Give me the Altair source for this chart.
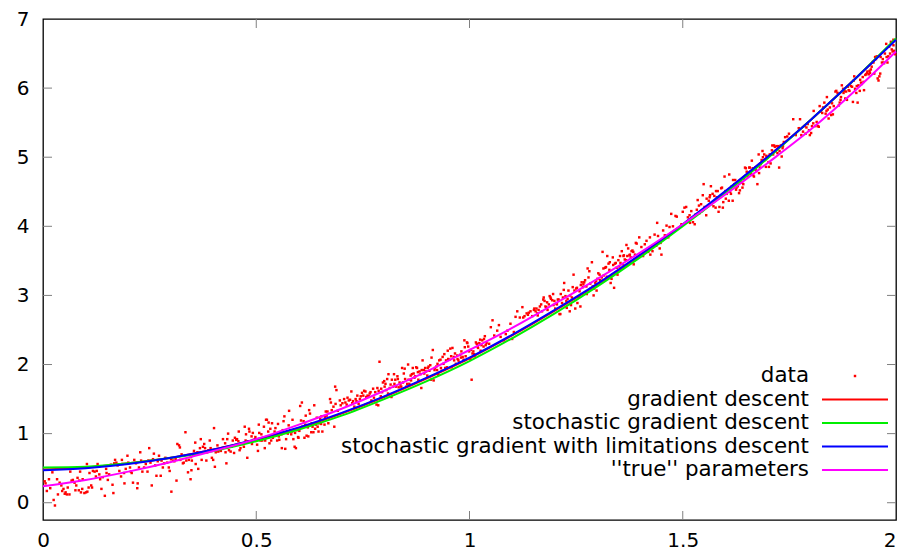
import altair as alt
import pandas as pd

# ---------------- values ----------------
x_ticks = [0.5, 1, 1.5]
y_ticks = [0, 1, 2, 3, 4, 5, 6]
x_labels = [0, 0.5, 1, 1.5, 2]
y_labels = [0, 1, 2, 3, 4, 5, 6, 7]

curve_x = [0.0, 0.1, 0.2, 0.3, 0.4, 0.5, 0.6, 0.7, 0.8, 0.9, 1.0,
           1.1, 1.2, 1.3, 1.4, 1.5, 1.6, 1.7, 1.8, 1.9, 2.0]
gd_y = [0.48, 0.51, 0.57, 0.65, 0.77, 0.91, 1.08, 1.29, 1.53, 1.80, 2.09,
        2.42, 2.78, 3.16, 3.58, 4.02, 4.50, 5.01, 5.54, 6.11, 6.71]
sgd_y = [0.51, 0.52, 0.57, 0.65, 0.75, 0.89, 1.06, 1.26, 1.50, 1.76, 2.05,
         2.38, 2.74, 3.13, 3.55, 4.00, 4.48, 4.99, 5.54, 6.11, 6.72]
sgdl_y = [0.47, 0.50, 0.56, 0.65, 0.77, 0.92, 1.09, 1.30, 1.54, 1.81, 2.10,
          2.43, 2.79, 3.17, 3.59, 4.03, 4.51, 5.01, 5.54, 6.11, 6.70]
true_y = [0.24, 0.33, 0.45, 0.59, 0.75, 0.92, 1.13, 1.36, 1.62, 1.90, 2.21,
          2.53, 2.88, 3.24, 3.62, 4.03, 4.46, 4.92, 5.40, 5.94, 6.53]

legend_labels = ["data", "gradient descent", "stochastic gradient descent",
                 "stochastic gradient with limitations descent", "''true'' parameters"]

data_seg1 = [(0.004,0.31),(0.006,0.28),(0.009,0.17),(0.014,0.34),(0.017,0.21),(0.022,0.44),(0.025,0.04),(0.028,-0.04),(0.033,0.34),(0.035,0.12),(0.039,0.29),(0.043,0.25),(0.045,0.17),(0.048,0.20),(0.051,0.13),(0.053,0.15),(0.056,0.12),(0.058,0.22),(0.062,0.12),(0.064,0.45),(0.067,0.32),(0.070,0.33),(0.074,0.29),(0.076,0.18),(0.078,0.25),(0.081,0.36),(0.084,0.18),(0.085,0.32),(0.087,0.45),(0.089,0.15),(0.092,0.20),(0.093,0.34),(0.097,0.14),(0.101,0.15),(0.103,0.56),(0.104,0.16),(0.107,0.22),(0.109,0.43),(0.113,0.25),(0.115,0.22),(0.117,0.46),(0.121,0.45),(0.124,0.38),(0.126,0.46),(0.128,0.56),(0.132,0.41),(0.134,0.34),(0.137,0.20),(0.140,0.37),(0.145,0.10),(0.148,0.49),(0.149,0.43),(0.152,0.33),(0.155,0.41),(0.159,0.55),(0.163,0.26),(0.165,0.14),(0.167,0.57),(0.169,0.62),(0.172,0.58),(0.175,0.54),(0.179,0.46),(0.183,0.38),(0.185,0.62),(0.186,0.56),(0.190,0.43),(0.191,0.28),(0.194,0.49),(0.198,0.68),(0.200,0.58),(0.204,0.51),(0.206,0.45),(0.208,0.43),(0.211,0.29),(0.214,0.62),(0.218,0.57),(0.221,0.21),(0.222,0.28),(0.225,0.51),(0.228,0.73),(0.230,0.61),(0.233,0.45),(0.237,0.51),(0.241,0.56),(0.245,0.45),(0.247,0.61),(0.249,0.79),(0.252,0.58),(0.255,0.25),(0.258,0.63),(0.260,0.71),(0.263,0.54),(0.266,0.39),(0.269,0.60),(0.272,0.68),(0.276,0.39),(0.278,0.61),(0.281,0.51),(0.284,0.57),(0.287,0.65),(0.291,0.58),(0.295,0.51),(0.297,0.46),(0.300,0.63),(0.301,0.16),(0.305,0.61),(0.308,0.60),(0.311,0.63),(0.313,0.32),(0.315,0.85),(0.319,0.83),(0.321,0.80),(0.322,0.62),(0.325,0.70),(0.328,0.57),(0.330,0.58),(0.334,1.02),(0.336,0.61),(0.340,0.44),(0.342,0.62),(0.346,0.34),(0.348,0.47)]

data_seg2 = [(0.347,0.66),(0.349,0.61),(0.352,0.68),(0.354,0.75),(0.357,0.87),(0.358,0.56),(0.362,0.73),(0.364,0.49),(0.368,0.79),(0.370,0.92),(0.372,0.62),(0.375,0.81),(0.378,0.85),(0.380,0.79),(0.383,0.61),(0.385,0.73),(0.388,0.76),(0.391,0.90),(0.393,0.79),(0.396,0.65),(0.399,0.62),(0.401,1.08),(0.403,0.52),(0.405,0.73),(0.409,0.83),(0.411,0.74),(0.414,0.76),(0.417,0.75),(0.420,0.79),(0.422,0.92),(0.424,0.80),(0.427,0.86),(0.428,0.73),(0.430,0.57),(0.432,0.92),(0.434,1.00),(0.436,0.76),(0.440,0.74),(0.442,0.81),(0.445,0.90),(0.448,0.72),(0.450,0.94),(0.453,0.91),(0.455,0.92),(0.458,0.89),(0.459,1.03),(0.461,0.76),(0.463,0.79),(0.465,0.86),(0.469,0.85),(0.471,0.81),(0.473,1.10),(0.475,0.90),(0.476,0.99),(0.479,0.65),(0.481,0.89),(0.483,1.07),(0.484,1.03),(0.486,0.89),(0.489,0.96),(0.490,0.85),(0.492,1.01),(0.494,0.91),(0.497,0.92),(0.498,0.95),(0.502,0.84),(0.504,0.75),(0.506,1.13),(0.507,1.01),(0.510,0.90),(0.512,0.99),(0.514,0.90),(0.518,1.10),(0.520,0.79),(0.521,0.90),(0.523,1.20),(0.525,1.20),(0.528,1.03),(0.529,1.16),(0.531,0.86),(0.533,1.07),(0.535,0.90),(0.537,1.15),(0.539,0.94),(0.541,0.97),(0.543,1.03),(0.545,1.08),(0.546,0.97),(0.549,0.90),(0.551,1.14),(0.553,0.96),(0.554,0.91),(0.556,1.02),(0.559,0.99),(0.560,0.79),(0.562,1.05),(0.564,1.18),(0.566,1.25),(0.568,0.78),(0.570,0.92),(0.572,1.03),(0.574,1.00),(0.576,1.12),(0.577,1.33),(0.580,1.05),(0.582,0.99),(0.584,1.03),(0.585,1.20),(0.587,0.92),(0.590,0.81),(0.591,1.01),(0.593,0.79),(0.595,1.05),(0.598,0.95),(0.599,0.94),(0.601,1.04),(0.603,1.40),(0.605,1.19),(0.607,1.45),(0.608,1.10),(0.611,1.18),(0.613,0.94),(0.615,1.13),(0.616,1.26),(0.618,0.97),(0.621,1.09),(0.622,0.96),(0.624,1.34),(0.626,1.29),(0.629,1.02),(0.630,1.15),(0.632,1.10),(0.634,1.02),(0.636,1.41),(0.638,1.07),(0.640,1.13),(0.642,1.23),(0.644,1.10),(0.646,1.03),(0.647,1.15),(0.650,1.21),(0.652,1.14),(0.653,1.25),(0.655,1.03),(0.657,1.19),(0.660,1.13),(0.661,1.24),(0.663,1.32),(0.665,1.26),(0.667,1.32),(0.669,1.15),(0.673,1.50),(0.675,1.45),(0.677,1.34),(0.681,1.39),(0.683,1.10),(0.685,1.68),(0.686,1.43),(0.688,1.63),(0.691,1.33)]

data_seg3 = [(0.696,1.48),(0.698,1.41),(0.702,1.44),(0.706,1.50),(0.709,1.45),(0.712,1.42),(0.714,1.52),(0.717,1.48),(0.720,1.49),(0.723,1.61),(0.725,1.44),(0.727,1.47),(0.730,1.39),(0.733,1.50),(0.735,1.47),(0.737,1.55),(0.740,1.43),(0.743,1.50),(0.745,1.54),(0.748,1.59),(0.751,1.55),(0.753,1.62),(0.756,1.61),(0.758,1.53),(0.761,1.55),(0.764,1.54),(0.766,1.58),(0.768,1.60),(0.770,1.48),(0.774,1.65),(0.776,1.52),(0.779,1.60),(0.782,1.42),(0.784,1.66),(0.786,1.41),(0.787,1.62),(0.789,2.04),(0.792,1.54),(0.793,1.65),(0.795,1.60),(0.797,1.74),(0.800,1.76),(0.801,1.68),(0.803,1.72),(0.805,1.63),(0.807,1.79),(0.809,1.58),(0.810,1.86),(0.813,1.66),(0.815,1.71),(0.817,1.53),(0.818,1.78),(0.821,1.68),(0.823,1.86),(0.824,1.72),(0.826,1.78),(0.828,1.68),(0.831,1.83),(0.832,1.79),(0.834,1.67),(0.836,1.74),(0.838,1.71),(0.840,1.68),(0.842,1.95),(0.844,1.74),(0.846,1.87),(0.848,1.94),(0.849,1.79),(0.852,1.68),(0.854,1.72),(0.856,2.00),(0.857,1.78),(0.859,1.72),(0.862,1.84),(0.863,1.77),(0.865,1.86),(0.867,1.95),(0.869,1.87),(0.871,1.81),(0.873,1.83),(0.875,1.96),(0.877,1.95),(0.879,1.89),(0.880,1.78),(0.883,1.90),(0.885,1.86),(0.887,1.66),(0.888,1.92),(0.890,2.06),(0.893,1.92),(0.894,1.87),(0.896,1.95),(0.898,1.90),(0.901,1.84),(0.902,1.95),(0.904,1.97),(0.906,1.91),(0.908,1.99),(0.910,1.78),(0.911,2.10),(0.914,2.21),(0.916,1.77),(0.918,1.92),(0.919,1.95),(0.922,1.97),(0.924,1.92),(0.925,2.01),(0.927,1.85),(0.929,2.06),(0.932,2.07),(0.933,1.95),(0.935,1.91),(0.937,2.11),(0.939,2.01),(0.941,2.15),(0.943,1.95),(0.945,2.06),(0.947,1.96),(0.949,2.20),(0.950,2.08),(0.953,2.07),(0.955,2.23),(0.957,2.12),(0.958,1.96),(0.960,2.24),(0.963,2.11),(0.964,2.06),(0.966,2.16),(0.968,2.01),(0.971,2.13),(0.972,2.08),(0.974,2.06),(0.976,2.03),(0.978,2.14),(0.980,2.10),(0.981,2.19),(0.984,2.11),(0.986,2.07),(0.988,2.35),(0.989,2.25),(0.991,2.12),(0.994,2.32),(0.995,2.31),(0.997,2.26),(0.999,2.19),(1.002,2.08),(1.003,2.21),(1.005,1.78),(1.007,2.16),(1.009,2.19),(1.011,2.15),(1.012,2.12),(1.015,2.32),(1.017,2.30),(1.019,2.26),(1.020,2.24),(1.023,2.31),(1.025,2.36),(1.026,2.20),(1.028,2.28),(1.030,2.35),(1.033,2.26),(1.034,2.37),(1.036,2.41),(1.038,2.28),(1.040,2.31)]

data_seg4 = [(1.046,2.30),(1.050,2.54),(1.054,2.64),(1.058,2.42),(1.065,2.49),(1.069,2.57),(1.073,2.40),(1.081,2.35),(1.085,2.44),(1.089,2.49),(1.096,2.59),(1.100,2.37),(1.104,2.47),(1.108,2.69),(1.112,2.77),(1.118,2.68),(1.124,2.83),(1.126,2.68),(1.129,2.70),(1.134,2.74),(1.137,2.72),(1.139,2.75),(1.143,2.77),(1.147,2.70),(1.151,2.79),(1.152,2.81),(1.155,2.77),(1.157,2.81),(1.159,2.74),(1.160,2.71),(1.162,2.79),(1.165,2.84),(1.168,2.87),(1.170,2.77),(1.173,2.94),(1.174,2.97),(1.176,2.92),(1.178,2.84),(1.180,2.83),(1.182,2.90),(1.183,2.79),(1.186,2.87),(1.188,2.99),(1.190,2.97),(1.191,2.95),(1.194,2.93),(1.196,3.02),(1.197,2.86),(1.199,2.92),(1.201,2.81),(1.204,2.88),(1.205,2.87),(1.207,2.94),(1.209,2.94),(1.211,2.73),(1.213,2.73),(1.214,3.02),(1.217,2.89),(1.219,2.97),(1.221,3.08),(1.222,3.18),(1.225,2.99),(1.227,2.92),(1.228,2.82),(1.230,2.95),(1.232,3.07),(1.235,2.77),(1.236,3.00),(1.238,2.86),(1.240,2.97),(1.242,3.12),(1.244,3.30),(1.246,3.07),(1.248,2.81),(1.250,3.10),(1.252,3.11),(1.253,2.89),(1.256,2.98),(1.258,3.06),(1.260,2.84),(1.261,3.15),(1.263,3.19),(1.266,3.12),(1.267,3.16),(1.269,3.19),(1.271,3.22),(1.274,3.13),(1.275,3.02),(1.277,3.39),(1.279,3.26),(1.281,3.35),(1.283,3.17),(1.284,3.10),(1.287,3.48),(1.289,3.13),(1.291,3.00),(1.292,3.10),(1.295,3.18),(1.297,3.21),(1.298,3.07),(1.300,3.24),(1.302,3.32),(1.305,3.30),(1.306,3.22),(1.308,3.21),(1.310,3.26),(1.312,3.63),(1.314,3.39),(1.315,3.29),(1.318,3.40),(1.320,3.41),(1.322,3.27),(1.323,3.57),(1.326,3.46),(1.328,3.37),(1.329,3.48),(1.331,3.18),(1.333,3.24),(1.336,3.55),(1.337,3.44),(1.339,3.11),(1.341,3.46),(1.343,3.47),(1.345,3.40),(1.347,3.30),(1.349,3.51),(1.351,3.42),(1.353,3.57),(1.354,3.47),(1.357,3.64),(1.359,3.45),(1.361,3.57),(1.362,3.58),(1.364,3.52),(1.367,3.51),(1.368,3.73),(1.370,3.57),(1.372,3.68),(1.375,3.58),(1.376,3.59),(1.378,3.55),(1.380,3.64),(1.382,3.65),(1.384,3.63),(1.385,3.45),(1.388,3.59),(1.390,3.76)]

data_seg5 = [(1.392,3.75),(1.398,3.84),(1.403,3.70),(1.407,3.57),(1.411,3.74),(1.415,3.79),(1.419,3.63),(1.423,3.84),(1.424,3.59),(1.429,3.64),(1.434,3.88),(1.438,3.72),(1.440,4.05),(1.442,3.86),(1.446,3.68),(1.448,3.76),(1.450,3.59),(1.454,3.94),(1.458,3.87),(1.462,4.01),(1.466,3.84),(1.469,3.99),(1.473,4.18),(1.477,4.00),(1.483,4.15),(1.486,4.14),(1.497,4.03),(1.500,4.21),(1.504,4.27),(1.508,4.28),(1.512,4.13),(1.516,4.16),(1.517,4.05),(1.520,4.22),(1.524,4.06),(1.528,4.03),(1.530,4.17),(1.533,4.24),(1.535,4.38),(1.538,4.30),(1.539,4.19),(1.543,4.32),(1.545,4.22),(1.547,4.45),(1.549,4.61),(1.551,4.28),(1.555,4.16),(1.556,4.40),(1.559,4.29),(1.561,4.37),(1.563,4.42),(1.564,4.45),(1.566,4.58),(1.569,4.34),(1.570,4.47),(1.572,4.29),(1.574,4.44),(1.577,4.27),(1.578,4.51),(1.580,4.42),(1.582,4.51),(1.584,4.21),(1.586,4.28),(1.587,4.42),(1.590,4.55),(1.592,4.56),(1.594,4.27),(1.595,4.35),(1.598,4.72),(1.600,4.51),(1.601,4.40),(1.603,4.47),(1.605,4.51),(1.608,4.37),(1.609,4.75),(1.611,4.50),(1.613,4.47),(1.615,4.58),(1.617,4.37),(1.618,4.67),(1.621,4.61),(1.623,4.67),(1.625,4.53),(1.626,4.56),(1.629,4.58),(1.631,4.63),(1.632,4.48),(1.634,4.52),(1.636,4.64),(1.639,4.63),(1.640,4.56),(1.642,4.61),(1.644,4.68),(1.646,4.85),(1.648,4.84),(1.650,4.79),(1.652,4.72),(1.654,4.75),(1.656,4.85),(1.657,4.85),(1.660,4.76),(1.662,4.95),(1.664,4.84),(1.665,4.74),(1.667,4.72),(1.670,4.85),(1.671,4.82),(1.673,4.80),(1.675,4.61),(1.678,5.04),(1.679,4.77),(1.681,4.85),(1.683,4.90),(1.685,4.96),(1.687,5.09),(1.688,5.00),(1.691,5.04),(1.693,4.96),(1.695,4.86),(1.696,5.02),(1.699,5.00),(1.701,4.93),(1.702,4.86),(1.704,5.04),(1.706,4.91),(1.709,5.10),(1.710,5.17),(1.712,5.04),(1.714,5.17),(1.716,5.15),(1.718,5.09),(1.720,5.16),(1.722,5.06),(1.724,5.16),(1.726,4.85),(1.727,5.09),(1.730,5.17),(1.732,5.01),(1.734,5.13),(1.735,5.16),(1.737,5.22),(1.740,5.29)]

data_seg6 = [(1.745,5.30),(1.749,5.34),(1.759,5.55),(1.765,5.32),(1.772,5.42),(1.775,5.55),(1.778,5.32),(1.782,5.37),(1.786,5.45),(1.788,5.34),(1.790,5.43),(1.793,5.48),(1.796,5.39),(1.798,5.32),(1.801,5.35),(1.803,5.45),(1.806,5.49),(1.807,5.67),(1.811,5.45),(1.814,5.51),(1.817,5.45),(1.819,5.44),(1.821,5.74),(1.824,5.66),(1.827,5.64),(1.829,5.72),(1.832,5.79),(1.835,5.63),(1.837,5.67),(1.838,5.87),(1.840,5.69),(1.842,5.56),(1.845,5.72),(1.848,5.61),(1.850,5.78),(1.852,5.62),(1.854,5.74),(1.858,5.95),(1.860,5.96),(1.863,5.93),(1.866,5.75),(1.868,5.79),(1.870,5.83),(1.871,5.87),(1.873,6.04),(1.876,5.99),(1.877,5.93),(1.879,5.96),(1.881,5.85),(1.883,5.95),(1.885,5.83),(1.887,6.02),(1.889,5.97),(1.891,5.96),(1.894,6.03),(1.897,6.02),(1.899,5.80),(1.901,6.11),(1.902,6.17),(1.904,5.99),(1.907,5.93),(1.908,6.03),(1.910,5.79),(1.912,6.04),(1.915,5.96),(1.916,6.12),(1.918,6.08),(1.920,6.06),(1.922,6.16),(1.924,6.09),(1.925,5.97),(1.928,6.19),(1.930,6.20),(1.932,6.22),(1.933,6.24),(1.936,6.20),(1.938,6.25),(1.939,6.22),(1.941,6.27),(1.943,6.31),(1.946,6.38),(1.947,6.37),(1.949,6.21),(1.951,6.45),(1.953,6.42),(1.955,6.46),(1.957,6.14),(1.959,6.11),(1.961,6.17),(1.963,6.21),(1.964,6.45),(1.967,6.37),(1.969,6.42),(1.971,6.37),(1.972,6.36),(1.974,6.50),(1.977,6.64),(1.978,6.45),(1.980,6.37),(1.982,6.46),(1.984,6.60),(1.986,6.50),(1.988,6.67),(1.990,6.56),(1.992,6.53),(1.994,6.62),(1.995,6.54),(1.998,6.49),(1.994,6.70)]

# ---------------- styling ----------------
W, H = 853, 501
FONT = "DejaVu Sans"
RED, GREEN, BLUE, MAGENTA = "#ff0000", "#00ee00", "#0000ff", "#ff00ff"
TICK_COLOR = "#808080"
TICK_LEN = 9
LINE_W = 2

xs = alt.Scale(domain=[0, 2], nice=False, zero=False)
ys = alt.Scale(domain=[-0.25, 7], nice=False, zero=False)
x_axis = alt.Axis(values=x_labels, format="~g", title=None, labelPadding=10,
                  labelFontSize=20, labelFont=FONT, labelColor="black",
                  labelAlign={"condition": {"test": "datum.value >= 2", "value": "right"},
                              "value": "center"},
                  ticks=False, domain=False, grid=False, labelFlush=False, labelOverlap=False)
y_axis = alt.Axis(values=y_labels, format="~g", title=None, labelPadding=14,
                  labelFontSize=20, labelFont=FONT, labelColor="black",
                  ticks=False, domain=False, grid=False, labelFlush=False, labelOverlap=False)

X = lambda f: alt.X(f, type="quantitative", scale=xs, axis=x_axis)
Y = lambda f: alt.Y(f, type="quantitative", scale=ys, axis=y_axis)

pts = pd.DataFrame(data_seg1 + data_seg2 + data_seg3 + data_seg4 + data_seg5 + data_seg6,
                   columns=["x", "y"])

layers = []
layers.append(alt.Chart(pts).mark_square(size=6, color=RED, opacity=1, strokeWidth=0)
              .encode(x=X("x"), y=Y("y")))

for ys_vals, col in [(gd_y, RED), (sgd_y, GREEN), (sgdl_y, BLUE), (true_y, MAGENTA)]:
    df = pd.DataFrame({"x": curve_x, "y": ys_vals})
    layers.append(alt.Chart(df).mark_line(color=col, strokeWidth=LINE_W, interpolate="monotone")
                  .encode(x=X("x"), y=Y("y")))

# inward mirrored ticks
xt = pd.DataFrame({"x": x_ticks})
yt = pd.DataFrame({"y": y_ticks})
layers.append(alt.Chart(xt).mark_rule(color=TICK_COLOR, strokeWidth=1)
              .encode(x=X("x"), y=alt.value(H), y2=alt.value(H - TICK_LEN)))
layers.append(alt.Chart(xt).mark_rule(color=TICK_COLOR, strokeWidth=1)
              .encode(x=X("x"), y=alt.value(0), y2=alt.value(TICK_LEN)))
layers.append(alt.Chart(yt).mark_rule(color=TICK_COLOR, strokeWidth=1)
              .encode(y=Y("y"), x=alt.value(0), x2=alt.value(TICK_LEN)))
layers.append(alt.Chart(yt).mark_rule(color=TICK_COLOR, strokeWidth=1)
              .encode(y=Y("y"), x=alt.value(W), x2=alt.value(W - TICK_LEN)))

# key (gnuplot style: text right-aligned, sample to the right)
TEXT_RIGHT = 766
SAMPLE_X1, SAMPLE_X2 = 779, 845
ROW0, ROW_STEP = 357, 23.5
legend_colors = [RED, RED, GREEN, BLUE, MAGENTA]
for i, (lab, col) in enumerate(zip(legend_labels, legend_colors)):
    yy = ROW0 + i * ROW_STEP
    layers.append(alt.Chart(pd.DataFrame({"t": [lab]}))
                  .mark_text(align="right", baseline="middle", font=FONT, fontSize=21.4, color="black")
                  .encode(text="t:N", x=alt.value(TEXT_RIGHT), y=alt.value(yy)))
    if i == 0:
        layers.append(alt.Chart(pd.DataFrame({"t": [lab]}))
                      .mark_square(size=6, color=col, opacity=1, strokeWidth=0)
                      .encode(x=alt.value((SAMPLE_X1 + SAMPLE_X2) / 2), y=alt.value(yy)))
    else:
        layers.append(alt.Chart(pd.DataFrame({"t": [lab]}))
                      .mark_rule(color=col, strokeWidth=LINE_W)
                      .encode(x=alt.value(SAMPLE_X1), x2=alt.value(SAMPLE_X2), y=alt.value(yy)))

chart = (alt.layer(*layers)
         .properties(width=W, height=H,
                     padding={"left": 35, "top": 11, "right": 1, "bottom": 34},
                     autosize=alt.AutoSizeParams(type="none"),
                     background="white")
         .configure_view(stroke="black", strokeWidth=1.3))

chart.save("out.html", embed_options={"renderer": "svg", "actions": False})
